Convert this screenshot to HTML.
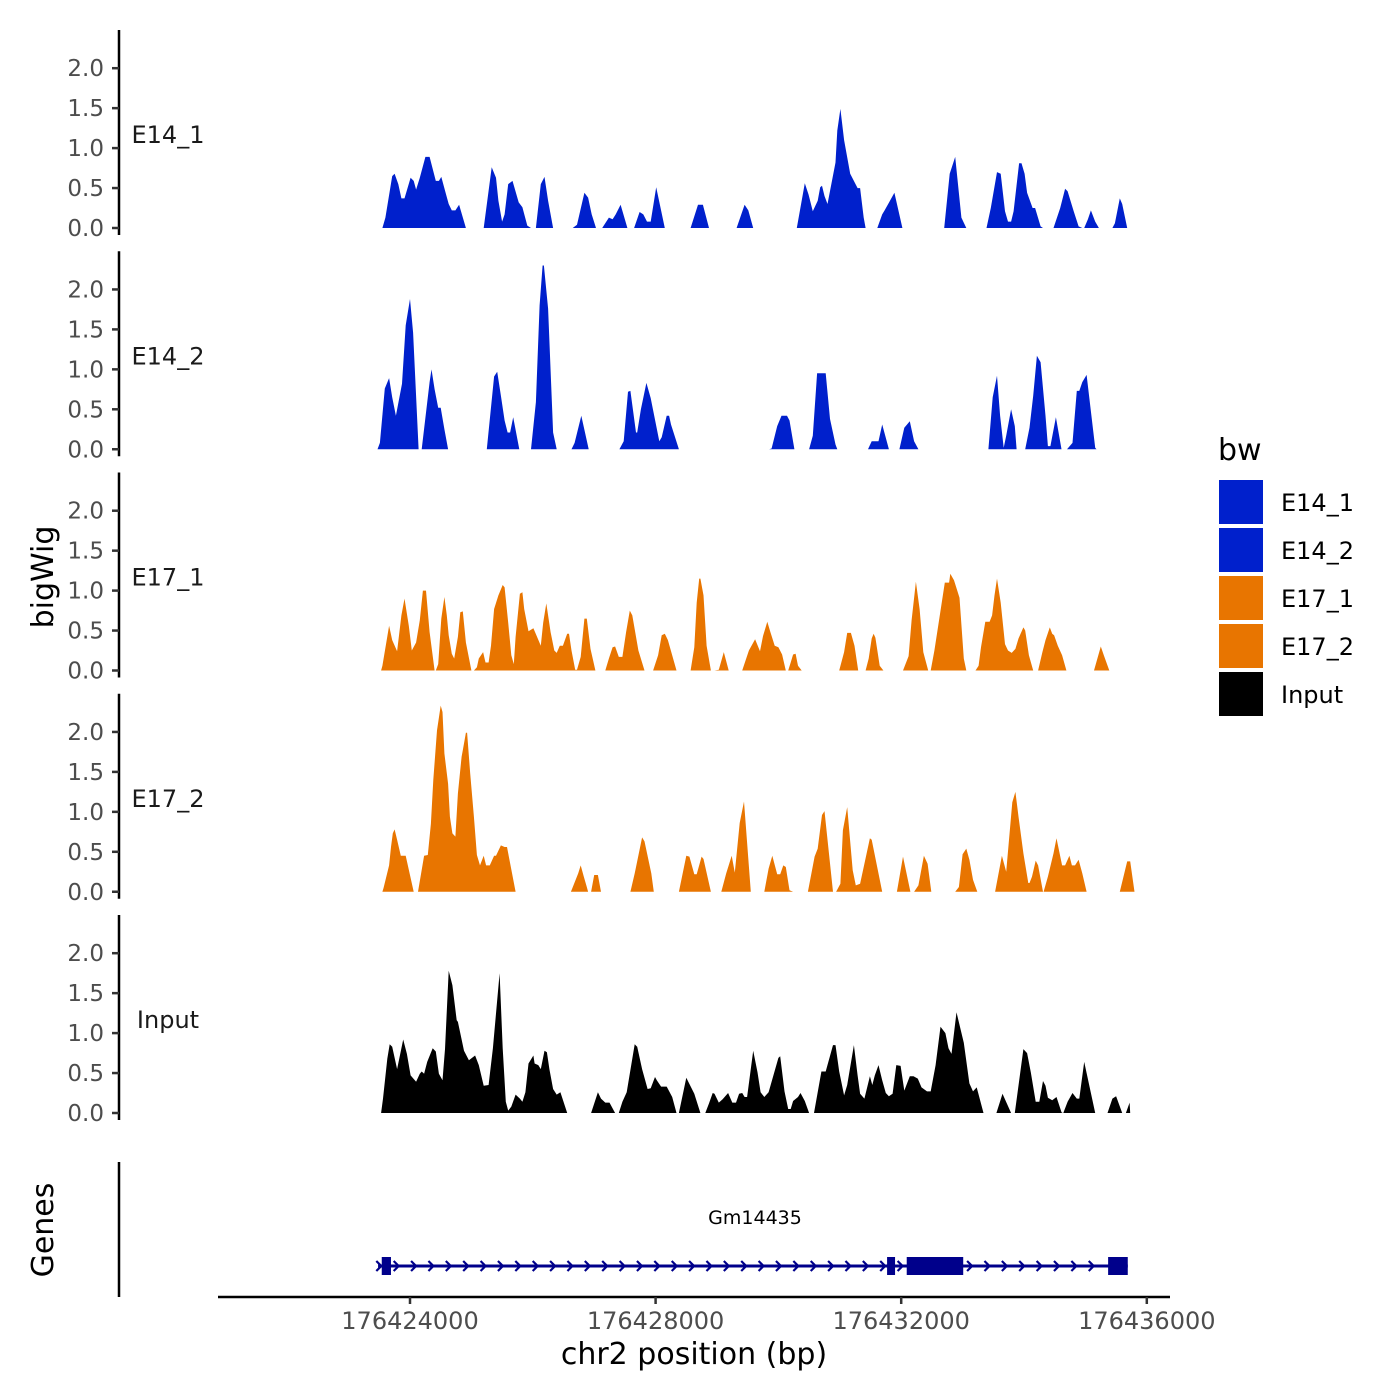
<!DOCTYPE html>
<html><head><meta charset="utf-8"><style>
html,body{margin:0;padding:0;background:#fff}
svg{display:block;font-family:"DejaVu Sans","Liberation Sans",sans-serif}
</style></head><body>
<svg id="chart" width="1400" height="1400" viewBox="0 0 1400 1400" xmlns="http://www.w3.org/2000/svg">
<rect width="1400" height="1400" fill="#fff"/>
<text x="53" y="577" transform="rotate(-90 53 577)" text-anchor="middle" font-size="30">bigWig</text>
<text x="53" y="1230" transform="rotate(-90 53 1230)" text-anchor="middle" font-size="30">Genes</text>
<line x1="119" y1="1162" x2="119" y2="1297" stroke="#000" stroke-width="2.5"/>
<line x1="218" y1="1297" x2="1170" y2="1297" stroke="#000" stroke-width="2.5"/>
<text x="694" y="1364" text-anchor="middle" font-size="30">chr2 position (bp)</text>
<text x="1218" y="460" font-size="30">bw</text>
<g id="tracks"></g>
<g id="gene"></g>
<g id="xaxis"></g>
<g id="legend"></g>
</svg>
<script>
// positions in kb offset from chr2:176420000
const trackNames = ["E14_1","E14_2","E17_1","E17_2","Input"];
const trackColors = ["#0020cc","#0020cc","#e87500","#e87500","#000000"];
const yTicks = [0,0.5,1.0,1.5,2.0];
const yTickLabels = ["0.0","0.5","1.0","1.5","2.0"];
const xTicksKb = [4,8,12,16];
const xTickLabels = ["176424000","176428000","176432000","176436000"];

const e141Pos = [3.55,3.60,3.71,3.75,3.81,3.86,3.91,4.01,4.06,4.10,4.16,4.25,4.32,4.42,4.47,4.51,4.58,4.63,4.68,4.74,4.80,4.91,
5.20,5.33,5.40,5.44,5.50,5.54,5.60,5.67,5.77,5.83,5.91,5.97,
6.05,6.13,6.19,6.25,6.33,
6.65,6.72,6.84,6.90,6.96,7.03,
7.13,7.24,7.30,7.35,7.43,7.54,
7.65,7.74,7.80,7.86,7.92,8.01,8.15,
8.57,8.69,8.77,8.87,
9.32,9.45,9.51,9.59,
10.30,10.43,10.49,10.56,10.64,10.68,10.71,10.75,10.80,10.93,10.96,11.01,11.07,11.17,11.29,11.33,11.39,11.42,
11.61,11.69,11.73,11.89,12.02,
12.70,12.79,12.88,12.98,13.06,
13.39,13.46,13.56,13.62,13.69,13.74,13.79,13.83,13.92,13.96,14.01,14.05,14.14,14.18,14.27,14.31,
14.48,14.59,14.67,14.71,14.81,14.89,14.95,
14.98,15.04,15.09,15.16,15.22,
15.44,15.48,15.56,15.60,15.68];
const e141Val = [0,.13,.65,.68,.55,.37,.37,.63,.59,.48,.63,.89,.89,.59,.59,.64,.44,.30,.22,.22,.29,0,
0,.76,.63,.34,.08,.17,.55,.59,.32,.26,.03,0,
0,.55,.64,.34,0,
0,.04,.44,.38,.17,0,
0,.13,.11,.17,.29,0,
0,.20,.17,.08,.08,.51,0,
0,.29,.29,0,
0,.29,.22,0,
0,.56,.42,.21,.34,.51,.53,.40,.30,.82,1.22,1.49,1.10,.68,.50,.50,.13,0,
0,.17,.22,.44,0,
0,.68,.89,.13,0,
0,.25,.70,.68,.21,.08,.08,.21,.81,.81,.68,.44,.25,.25,.02,0,
0,.25,.49,.46,.21,.02,0,
0,.11,.22,.08,0,
0,.06,.37,.30,0];

const e142Pos = [3.47,3.51,3.59,3.66,3.71,3.77,3.87,3.93,4.00,4.05,4.14,
4.19,4.32,4.35,4.40,4.46,4.50,4.56,4.62,
5.25,5.37,5.42,5.48,5.54,5.59,5.63,5.68,5.78,
5.97,6.05,6.11,6.16,6.18,6.25,6.33,6.39,
6.63,6.68,6.79,6.91,
7.41,7.48,7.55,7.59,7.68,7.70,7.76,7.85,7.92,8.06,8.10,8.18,8.22,8.25,8.38,
9.85,9.89,9.98,10.05,10.14,10.18,10.26,
10.50,10.56,10.63,10.77,10.84,10.93,10.96,
11.46,11.52,11.63,11.69,11.80,
11.97,12.05,12.14,12.21,12.28,
13.42,13.49,13.56,13.61,13.67,13.71,13.79,13.85,13.88,
14.02,14.09,14.15,14.21,14.27,14.35,14.39,14.43,14.52,14.61,
14.70,14.79,14.86,14.90,14.95,15.02,15.16,15.18];
const e142Val = [0,.08,.76,.89,.65,.42,.82,1.55,1.88,1.46,0,
0,.84,1.00,.75,.52,.52,.25,0,
0,.91,.97,.67,.36,.21,.21,.40,0,
0,.59,1.80,2.30,2.30,1.76,.21,0,
0,.08,.42,0,
0,.10,.72,.73,.21,.21,.50,.83,.64,.10,.15,.42,.42,.31,0,
0,.01,.29,.42,.42,.36,0,
0,.17,.95,.95,.38,.06,0,
0,.10,.10,.31,0,
0,.27,.35,.10,0,
0,.65,.92,.42,.02,.17,.50,.29,0,
0,.27,.67,1.17,1.09,.42,.04,.04,.40,0,
0,.08,.73,.73,.84,.93,.02,0];

const e171Pos = [3.53,3.55,3.66,3.71,3.79,3.86,3.91,3.98,4.03,4.10,4.16,4.21,4.26,4.32,4.40,
4.42,4.46,4.51,4.56,4.60,4.63,4.68,4.72,4.78,4.82,4.86,4.91,5.00,
5.04,5.09,5.12,5.19,5.23,5.28,5.32,5.37,5.44,5.51,5.54,5.60,5.65,5.69,5.72,5.79,5.83,5.86,5.93,6.01,6.13,6.17,6.22,6.29,6.35,6.39,6.44,6.49,6.56,6.59,6.63,6.69,
6.72,6.78,6.84,6.88,6.94,7.02,
7.18,7.24,7.30,7.34,7.40,7.46,7.52,7.58,7.62,7.72,7.82,
7.96,8.04,8.10,8.15,8.20,8.34,
8.57,8.63,8.67,8.71,8.73,8.78,8.83,8.90,
8.96,9.03,9.11,9.19,
9.41,9.52,9.62,9.70,9.75,9.82,9.87,9.94,10.00,10.06,10.12,
10.16,10.20,10.24,10.28,10.32,10.38,
10.99,11.07,11.12,11.18,11.24,11.30,
11.42,11.47,11.52,11.55,11.58,11.65,11.71,
12.03,12.12,12.17,12.24,12.30,12.36,12.44,
12.48,12.54,12.62,12.71,12.78,12.80,12.86,12.95,13.02,13.06,
13.21,13.26,13.30,13.37,13.44,13.48,13.52,13.56,13.62,13.69,13.74,13.80,13.86,13.91,13.99,14.02,14.08,14.15,
14.23,14.30,14.35,14.42,14.46,14.49,14.55,14.62,14.69,
15.14,15.25,15.30,15.39];
const e171Val = [0,.06,.56,.38,.24,.69,.90,.56,.25,.35,.63,1.00,1.00,.48,0,
0,.08,.65,.92,.69,.44,.21,.15,.42,.73,.74,.35,0,
0,.04,.15,.23,.10,.10,.31,.77,.94,1.07,1.04,.60,.19,.08,.42,.96,.98,.77,.49,.53,.31,.60,.84,.48,.25,.22,.31,.31,.46,.46,.25,.01,
.01,.17,.65,.65,.27,0,
0,.15,.29,.30,.17,.17,.48,.75,.69,.25,0,
0,.19,.44,.46,.38,0,
0,.29,.85,1.15,1.15,.94,.31,0,
0,.01,.23,0,
0,.25,.39,.24,.43,.61,.48,.31,.29,.20,0,
0,.10,.20,.21,.06,0,
0,.23,.47,.47,.31,0,
0,.15,.40,.46,.41,.06,0,
0,.18,.63,1.11,.77,.23,0,
0,.25,.65,1.10,1.10,1.21,1.13,.91,.15,0,
0,.06,.29,.61,.61,.69,.94,1.15,.85,.33,.25,.22,.27,.40,.54,.50,.19,0,
0,.23,.38,.54,.46,.44,.31,.19,0,
0,.30,.19,0];

const e172Pos = [3.55,3.57,3.66,3.69,3.72,3.75,3.79,3.85,3.93,3.97,4.06,
4.13,4.23,4.29,4.34,4.38,4.44,4.50,4.53,4.56,4.62,4.65,4.69,4.74,4.78,4.84,4.86,4.91,4.93,4.98,5.04,5.09,5.14,5.20,5.24,5.30,5.37,5.40,5.48,5.54,5.58,5.72,
6.62,6.74,6.78,6.83,6.88,6.90,
6.95,7.00,7.06,7.11,
7.59,7.66,7.78,7.82,7.93,7.97,
8.38,8.50,8.55,8.63,8.67,8.75,8.78,8.90,
9.07,9.15,9.24,9.29,9.37,9.44,9.55,
9.77,9.84,9.90,9.98,10.03,10.08,10.12,10.18,10.24,
10.48,10.59,10.64,10.71,10.75,10.89,
10.94,11.01,11.05,11.12,11.21,11.26,11.33,11.49,11.52,11.69,
11.93,12.03,12.15,
12.21,12.28,12.37,12.43,12.49,
12.88,12.94,13.00,13.06,13.11,13.17,13.24,
13.53,13.64,13.71,13.81,13.86,13.91,13.99,14.07,14.09,14.13,14.19,14.23,14.31,
14.32,14.39,14.48,14.53,14.62,14.67,14.74,14.78,14.83,14.89,14.95,15.02,
15.56,15.68,15.73,15.80];
const e172Val = [0,.05,.33,.56,.73,.78,.65,.45,.45,.31,0,
0,.45,.46,.85,1.40,2.02,2.33,2.25,1.73,1.35,.94,.73,.69,1.23,1.69,1.77,1.99,1.99,1.48,.94,.46,.33,.45,.33,.33,.45,.45,.58,.56,.56,0,
0,.23,.33,.19,.06,0,
0,.21,.21,0,
0,.23,.68,.63,.23,0,
0,.45,.44,.22,.22,.44,.41,0,
0,.23,.45,.24,.86,1.13,0,
0,.29,.45,.22,.22,.33,.31,.02,0,
0,.44,.54,.96,1.01,0,
0,.10,.77,1.06,.27,.08,.10,.67,.65,0,
0,.44,0,
0,.08,.45,.35,0,
0,.06,.47,.54,.40,.15,0,
0,.45,.25,1.12,1.25,.94,.48,.11,.11,.19,.39,.33,0,
0,.19,.48,.67,.33,.33,.45,.33,.33,.40,.23,0,
0,.38,.38,0];

const inputPos = [3.53,3.56,3.63,3.67,3.71,3.79,3.89,3.95,4.01,4.10,4.16,4.19,4.23,4.28,4.37,4.42,4.47,4.53,4.57,4.63,4.69,4.76,4.78,4.88,4.96,5.06,5.12,5.20,5.28,5.35,5.46,5.51,5.56,5.60,5.65,5.72,5.79,5.83,5.88,5.93,6.01,6.03,6.09,6.13,6.19,6.23,6.27,6.33,6.39,6.45,6.56,
6.95,7.06,7.11,7.18,7.25,7.34,
7.40,7.46,7.53,7.66,7.70,7.78,7.87,7.92,7.99,8.02,8.09,8.18,8.27,8.34,
8.38,8.50,8.63,8.73,
8.81,8.87,8.93,8.96,9.03,9.09,9.18,9.25,9.31,9.36,9.41,9.45,9.49,9.59,9.66,9.71,9.77,9.84,10.00,10.03,10.10,10.16,10.20,10.24,10.32,10.36,10.43,10.50,
10.58,10.70,10.77,10.89,10.93,10.99,11.07,11.12,11.23,11.29,11.33,11.40,11.49,11.53,11.57,11.63,11.69,11.75,11.80,11.86,11.92,11.99,12.05,12.14,12.20,12.27,12.33,12.42,12.48,12.56,12.64,12.72,12.77,12.82,12.90,13.02,13.11,13.17,13.23,13.34,
13.55,13.65,13.79,
13.85,13.99,14.05,14.11,14.19,14.25,14.31,14.35,14.39,14.46,14.53,14.61,14.63,
14.64,14.71,14.79,14.86,14.90,14.98,15.16,
15.36,15.44,15.50,15.60,15.66,15.72,15.73];
const inputVal = [0,.18,.68,.86,.83,.55,.92,.74,.47,.39,.49,.52,.49,.64,.81,.77,.49,.41,.80,1.78,1.60,1.16,1.14,.78,.66,.72,.60,.34,.35,.81,1.75,.81,.14,.03,.08,.23,.18,.14,.26,.62,.72,.62,.60,.55,.78,.76,.55,.30,.23,.26,0,
0,.26,.18,.13,.13,0,
0,.14,.26,.86,.83,.55,.30,.31,.45,.41,.33,.33,.20,0,
0,.44,.24,0,
0,.12,.25,.24,.13,.17,.25,.13,.13,.24,.25,.20,.20,.78,.51,.26,.20,.26,.69,.71,.27,.05,.05,.15,.20,.25,.15,0,
0,.52,.52,.85,.85,.52,.22,.35,.85,.47,.24,.18,.46,.35,.47,.60,.41,.25,.21,.24,.60,.59,.28,.46,.46,.43,.32,.27,.27,.60,1.08,1.00,.81,.74,1.26,.88,.37,.27,.32,0,
0,.24,0,
0,.80,.75,.51,.14,.14,.40,.34,.19,.16,.20,.01,0,
0,.14,.25,.18,.18,.64,0,
0,.18,.21,0,0,.13,0];

const trackPos = [e141Pos,e142Pos,e171Pos,e172Pos,inputPos];
const trackVal = [e141Val,e142Val,e171Val,e172Val,inputVal];

// gene model (kb)
const geneName = "Gm14435";
const geneStartKb = 3.48, geneEndKb = 15.69;
const exonStarts = [3.54,11.77,12.09,15.37];
const exonEnds = [3.69,11.90,13.01,15.69];

const NS = "http://www.w3.org/2000/svg";
function mk(tag, attrs, parent){const e=document.createElementNS(NS,tag);for(const k in attrs)e.setAttribute(k,attrs[k]);parent.appendChild(e);return e;}
function xScale(kb){return 410 + (kb-4)*61.4;}
function baseY(i){return 228 + i*221.25;}
function yScale(i,v){return baseY(i) - v*79.9;}

const tracks = document.getElementById('tracks');
trackNames.forEach((name,i)=>{
  const g = mk('g',{},tracks);
  
  
  const b = baseY(i);
  const ax = mk('line',{x1:119,y1:b-198,x2:119,y2:b+7,stroke:'#000','stroke-width':2.5},g);
  
  
  yTicks.forEach((t,j)=>{
    const y = yScale(i,t);
    const tk = mk('line',{x1:112,y1:y,x2:119,y2:y,stroke:'#333','stroke-width':2.5},g);
    
    
    const tl = mk('text',{x:104,y:y+8,'text-anchor':'end','font-size':23,fill:'#4d4d4d'},g);
    tl.textContent = yTickLabels[j];
    
    
  });
  const lab = mk('text',{x:168,y:b-85,'text-anchor':'middle','font-size':24,fill:'#1a1a1a'},g);
  lab.textContent = name;
  
  
  const P = trackPos[i], V = trackVal[i];
  let d = 'M' + xScale(P[0]).toFixed(1) + ',' + b;
  for(let k=0;k<P.length;k++) d += 'L' + xScale(P[k]).toFixed(1) + ',' + yScale(i,V[k]).toFixed(1);
  d += 'L' + xScale(P[P.length-1]).toFixed(1) + ',' + b + 'Z';
  const area = mk('path',{d:d,fill:trackColors[i],stroke:'none'},g);
  
  
});

// gene track
const gg = document.getElementById('gene');
const gy = 1266, gc = '#00008b';
const gl = mk('line',{x1:xScale(geneStartKb),y1:gy,x2:xScale(geneEndKb),y2:gy,stroke:gc,'stroke-width':3},gg);


for(let kb=geneStartKb+0.02; kb<geneEndKb-0.05; kb+=0.283){
  const inEx = exonStarts.some((s,j)=>kb>s-0.04 && kb<exonEnds[j]+0.03);
  if(inEx) continue;
  const x = xScale(kb);
  const ch = mk('polyline',{points:(x-3)+','+(gy-5)+' '+(x+2)+','+gy+' '+(x-3)+','+(gy+5),fill:'none',stroke:gc,'stroke-width':2.2},gg);
  
  
}
exonStarts.forEach((s,j)=>{
  const ex = mk('rect',{x:xScale(s),y:gy-9,width:xScale(exonEnds[j])-xScale(s),height:18,fill:gc},gg);
  
  
});
const gt = mk('text',{x:755,y:1224,'text-anchor':'middle','font-size':19,fill:'#000'},gg);
gt.textContent = geneName;



// x axis
const xa = document.getElementById('xaxis');
xTicksKb.forEach((kb,j)=>{
  const x = xScale(kb);
  const t = mk('line',{x1:x,y1:1297,x2:x,y2:1304,stroke:'#333','stroke-width':2.5},xa);
  
  
  const l = mk('text',{x:x,y:1329,'text-anchor':'middle','font-size':24,fill:'#4d4d4d'},xa);
  l.textContent = xTickLabels[j];
  
  
});

// legend
const lg = document.getElementById('legend');
trackNames.forEach((name,i)=>{
  const y = 480 + i*48;
  const r = mk('rect',{x:1219,y:y,width:44,height:44,fill:trackColors[i]},lg);
  
  
  const t = mk('text',{x:1281,y:y+31,'font-size':24,fill:'#000'},lg);
  t.textContent = name;
  
  
});
</script>
</body></html>
